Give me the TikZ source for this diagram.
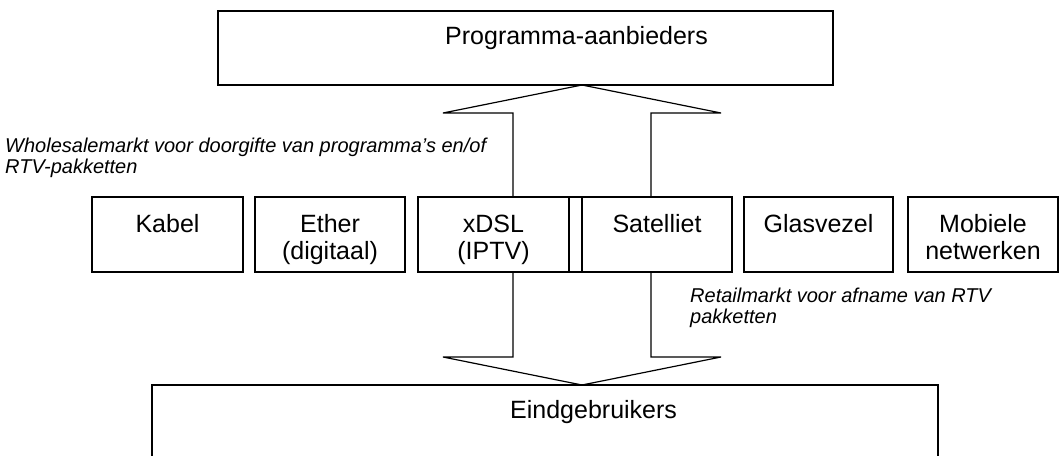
\documentclass[tikz,border=0pt]{standalone}
\usepackage{fontspec}
\setmainfont{Liberation Sans}
\begin{document}
\begin{tikzpicture}[x=1pt,y=-1pt,
  box/.style={draw, line width=1.2pt, inner sep=0pt, outer sep=0pt, anchor=north west},
  mid/.style={box, minimum width=151pt, minimum height=75pt},
  lbl/.style={inner sep=0pt, font=\fontsize{25}{27}\selectfont, align=center, anchor=north},
  big/.style={inner sep=0pt, font=\fontsize{25}{27}\selectfont, anchor=base west},
  note/.style={inner sep=0pt, font=\fontsize{20}{21.5}\selectfont\itshape, align=left, anchor=north west},
  blockarrow/.style={draw, line width=1.2pt, line join=miter}]
\useasboundingbox (0,0) rectangle (1059,455);
\clip (0,0) rectangle (1059,455);
% top and bottom boxes
\node[box, minimum width=615pt, minimum height=74pt] (prog) at (218,11) {};
\node[big] (progT) at (445,44) {Programma-aanbieders};
\node[box, minimum width=786pt, minimum height=90pt] (eind) at (152,385) {};
\node[big] (eindT) at (510,418) {Eindgebruikers};
% middle row
\node[mid] (kabel) at (92,197) {};
\node[mid, minimum width=150pt] (ether) at (255,197) {};
\node[mid] (xdsl) at (418,197) {};
\node[box, minimum width=13pt, minimum height=75pt] (gap) at (569,197) {};
\node[mid, minimum width=150pt] (sat) at (582,197) {};
\node[mid, minimum width=149pt] (glas) at (744,197) {};
\node[mid, minimum width=150pt] (mob) at (908,197) {};
\node[lbl, yshift=-15pt] (kabelT) at (kabel.north) {\rule{0pt}{20pt}Kabel};
\node[lbl, yshift=-15pt] (etherT) at (ether.north) {\rule{0pt}{20pt}Ether\\(digitaal)};
\node[lbl, yshift=-15pt] (xdslT) at (xdsl.north) {\rule{0pt}{20pt}xDSL\\(IPTV)};
\node[lbl, yshift=-15pt] (satT) at (sat.north) {\rule{0pt}{20pt}Satelliet};
\node[lbl, yshift=-15pt] (glasT) at (glas.north) {\rule{0pt}{20pt}Glasvezel};
\node[lbl, yshift=-15pt] (mobT) at (mob.north) {\rule{0pt}{20pt}Mobiele\\netwerken};
% labels
\node[note] (whole) at (5,136) {\rule{0pt}{16pt}Wholesalemarkt voor doorgifte van programma’s en/of\\RTV-pakketten};
\node[note] (retail) at (690,286) {\rule{0pt}{16pt}Retailmarkt voor afname van RTV\\pakketten};
% block arrows
\coordinate (upTip) at (582,85);
\coordinate (upSL) at (513,197);
\coordinate (upSR) at (651,197);
\coordinate (upBL) at (443,113);
\coordinate (upBR) at (721,113);
\draw[blockarrow] (upSL) -- (upSL |- upBL) -- (upBL) -- (upTip) -- (upBR) -- (upSR |- upBR) -- (upSR);
\coordinate (dnTip) at (582,385);
\coordinate (dnSL) at (513,272);
\coordinate (dnSR) at (651,272);
\coordinate (dnBL) at (443,357);
\coordinate (dnBR) at (721,357);
\draw[blockarrow] (dnSL) -- (dnSL |- dnBL) -- (dnBL) -- (dnTip) -- (dnBR) -- (dnSR |- dnBR) -- (dnSR);
\end{tikzpicture}
\end{document}
